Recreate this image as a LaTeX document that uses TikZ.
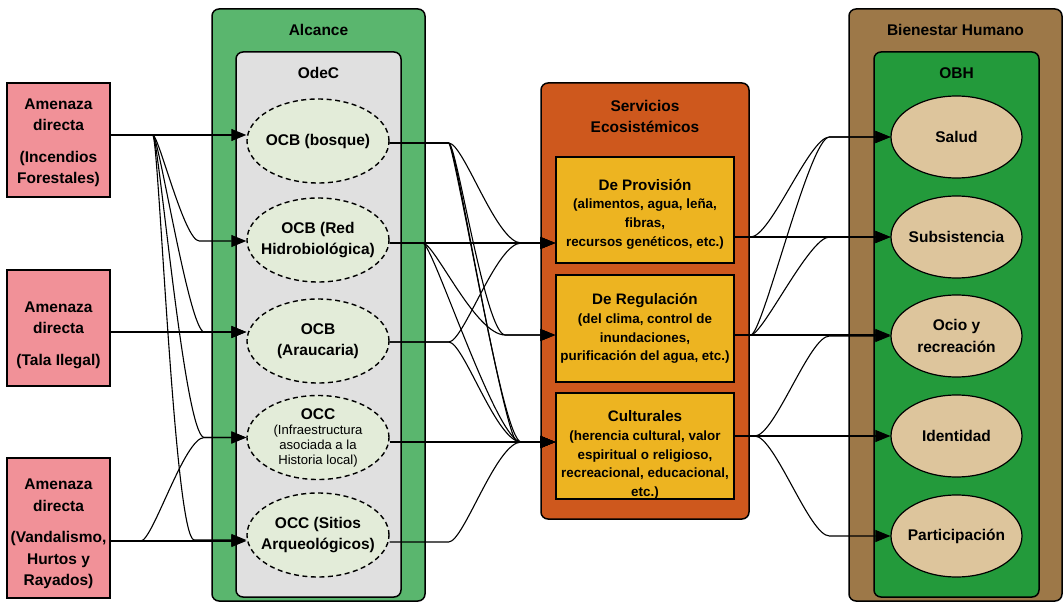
\documentclass[tikz,border=0pt]{standalone}
\usepackage{fontspec}
\setmainfont{Liberation Sans}
\usetikzlibrary{arrows.meta,calc,shapes.geometric}

\definecolor{threatpink}{HTML}{F19198}
\definecolor{alcgreen}{HTML}{5AB66E}
\definecolor{odecgray}{HTML}{E0E0E0}
\definecolor{objpale}{HTML}{E3ECD9}
\definecolor{seorange}{HTML}{CE581D}
\definecolor{seyellow}{HTML}{EDB421}
\definecolor{bhbrown}{HTML}{9D7848}
\definecolor{obhgreen}{HTML}{239A3B}
\definecolor{bhtan}{HTML}{DDC59C}

% connector: straight run out, smooth bend, straight run into the target
\newcommand\curvelink[6]{%
  \draw[link] (#1) -- ++(#3,0) .. controls +(#5,0) and +(-#6,0) .. ([xshift=-#4pt]#2) -- (#2);}

\begin{document}
\begin{tikzpicture}[x=1pt,y=-1pt,
  every node/.style={font=\bfseries\fontsize{15.5}{21.5}\selectfont, align=center, inner sep=0pt},
  frame/.style={draw=black, line width=1.5pt, rounded corners=7pt},
  threatbox/.style={draw=black, line width=1.5pt, fill=threatpink, minimum width=103pt},
  objellipse/.style={ellipse, draw=black, line width=1.4pt, dash pattern=on 5pt off 3.5pt,
    fill=objpale, minimum width=142pt, minimum height=84pt},
  servbox/.style={draw=black, line width=1.5pt, fill=seyellow, minimum width=178pt},
  servtext/.style={font=\bfseries\fontsize{13.4}{18.7}\selectfont},
  bhellipse/.style={ellipse, draw=black, line width=1.2pt, fill=bhtan,
    minimum width=131pt, minimum height=82pt},
  link/.style={draw=black, line width=1.1pt, -{Triangle[length=15pt,width=12pt]}},
]
\useasboundingbox (0,0) rectangle (1063,602);

% ---------- containers ----------
\node[frame, fill=alcgreen, minimum width=213pt, minimum height=592pt] (alcance) at (318.5,305) {};
\node (alcance-title) at ($(alcance.north)+(0,22)$) {Alcance};
\node[frame, fill=odecgray, minimum width=165pt, minimum height=545pt] (odec) at (318.5,324.5) {};
\node (odec-title) at ($(odec.north)+(0,22)$) {OdeC};

\node[frame, fill=seorange, minimum width=208pt, minimum height=436pt] (servicios) at (645,301) {};
\node (servicios-title) at ($(servicios.north)+(0,34)$) {Servicios\\Ecosistémicos};

\node[frame, fill=bhbrown, minimum width=213pt, minimum height=592pt] (bienestar) at (955.5,305) {};
\node (bienestar-title) at ($(bienestar.north)+(0,22)$) {Bienestar Humano};
\node[frame, fill=obhgreen, minimum width=165pt, minimum height=545pt] (obh) at (956.5,324.5) {};
\node (obh-title) at ($(obh.north)+(0,22)$) {OBH};

% ---------- direct threats ----------
\node[threatbox, minimum height=114pt] (t1) at (58.5,140) {};
\node (t1-text) at ($(t1)+(0,3)$) {Amenaza\\directa\\[10pt](Incendios\\Forestales)};
\node[threatbox, minimum height=116pt] (t2) at (58.5,328) {};
\node (t2-text) at ($(t2)+(0,7)$) {Amenaza\\directa\\[10pt](Tala Ilegal)};
\node[threatbox, minimum height=140pt] (t3) at (58.5,528) {};
\node (t3-text) at ($(t3)+(0,6)$) {Amenaza\\directa\\[10pt](Vandalismo,\\Hurtos y\\Rayados)};

% ---------- conservation objects ----------
\node[objellipse] (e1) at (318,141) {};
\node (e1-text) at (e1) {OCB (bosque)};
\node[objellipse] (e2) at (318,240) {};
\node (e2-text) at (e2) {OCB (Red\\Hidrobiológica)};
\node[objellipse] (e3) at (318,341) {};
\node (e3-text) at (e3) {OCB\\(Araucaria)};
\node[objellipse] (e4) at (318,437.5) {};
\node[font=\mdseries\fontsize{13.1}{15}\selectfont] (e4-text) at (318,438) {{\bfseries\fontsize{15.5}{16}\selectfont OCC}\\(Infraestructura\\asociada a la\\Historia local)};
\node[objellipse] (e5) at (318,535) {};
\node (e5-text) at (e5) {OCC (Sitios\\Arqueológicos)};

% ---------- ecosystem services ----------
\node[servbox, minimum height=106pt] (prov) at (645,210) {};
\node[servtext] (prov-text) at ($(prov)+(0,4)$)
  {{\fontsize{15.2}{18.7}\selectfont De Provisión}\\(alimentos, agua, leña,\\fibras,\\recursos genéticos, etc.)};
\node[servbox, minimum height=107pt] (reg) at (645,328.5) {};
\node[servtext] (reg-text) at (reg)
  {{\fontsize{15.2}{18.7}\selectfont De Regulación}\\(del clima, control de\\inundaciones,\\purificación del agua, etc.)};
\node[servbox, minimum height=106pt] (cult) at (645,446) {};
\node[servtext] (cult-text) at ($(cult)+(0,9)$)
  {{\fontsize{15.2}{18.7}\selectfont Culturales}\\(herencia cultural, valor\\espiritual o religioso,\\recreacional, educacional,\\etc.)};

% ---------- human well-being ----------
\node[bhellipse] (salud) at (956.5,137) {};
\node (salud-text) at (salud) {Salud};
\node[bhellipse] (subs) at (956.5,237) {};
\node (subs-text) at (subs) {Subsistencia};
\node[bhellipse] (ocio) at (956.5,336) {};
\node (ocio-text) at (ocio) {Ocio y\\recreación};
\node[bhellipse] (ident) at (956.5,436) {};
\node (ident-text) at (ident) {Identidad};
\node[bhellipse] (part) at (956.5,536) {};
\node (part-text) at (part) {Participación};

% ---------- ports ----------
\coordinate (t1o) at ([yshift=5pt]t1.east);
\coordinate (t2o) at ([yshift=-4pt]t2.east);
\coordinate (t3o) at ([yshift=-13pt]t3.east);
\coordinate (e1i) at ([yshift=6pt]e1.west);
\coordinate (e2i) at ([yshift=-1pt]e2.west);
\coordinate (e3i) at ([yshift=9pt]e3.west);
\coordinate (e4i) at (e4.west);
\coordinate (e5i) at ([yshift=-5pt]e5.west);
\coordinate (e1o) at ([yshift=-2pt]e1.east);
\coordinate (e2o) at ([yshift=-3pt]e2.east);
\coordinate (e3o) at ([yshift=-1pt]e3.east);
\coordinate (e4o) at ([yshift=-4.5pt]e4.east);
\coordinate (e5o) at ([yshift=-7pt]e5.east);
\coordinate (pi) at ([yshift=-33pt]prov.west);
\coordinate (ri) at ([yshift=-6.5pt]reg.west);
\coordinate (ci) at ([yshift=4pt]cult.west);
\coordinate (po) at ([yshift=-27pt]prov.east);
\coordinate (ro) at ([yshift=-6.5pt]reg.east);
\coordinate (co) at ([yshift=10pt]cult.east);

% ---------- threats -> objects ----------
\draw[link] (t1o) -- (t1o -| e1.west);
\curvelink{t1o}{e2i}{42}{47}{6}{15}
\curvelink{t1o}{e3i}{42}{42}{6}{15}
\curvelink{t1o}{e4i}{42}{42}{6}{20}
\curvelink{t1o}{e5i}{42}{52}{6}{20}
\draw[link] (t2o) -- (t2o -| e3.west);
\curvelink{t3o}{e4i}{30}{42}{12}{20}
\draw[link] (t3o) -- (t3o -| e5.west);

% ---------- objects -> services ----------
\curvelink{e1o}{pi}{59}{34}{15}{25}
\curvelink{e1o}{ri}{59}{50}{8}{20}
\curvelink{e1o}{ci}{59}{34}{8}{20}
\curvelink{e1o}{ci}{59}{38}{5}{12}
\draw[link] (e2o) -- (e2o -| prov.west);
\curvelink{e2o}{ri}{33}{50}{12}{30}
\curvelink{e2o}{ci}{33}{34}{10}{25}
\curvelink{e3o}{pi}{59}{34}{15}{25}
\curvelink{e3o}{ci}{59}{34}{15}{25}
\draw[link] (e4o) -- (e4o -| cult.west);
\curvelink{e5o}{ci}{59}{34}{15}{25}

% ---------- services -> well-being ----------
\curvelink{po}{salud.west}{16}{61}{20}{20}
\draw[link] (po) -- (po -| subs.west);
\curvelink{ro}{salud.west}{16}{61}{12}{20}
\curvelink{ro}{subs.west}{16}{61}{12}{20}
\draw[link] (ro) -- (ro -| ocio.west);
\curvelink{co}{ocio.west}{20}{61}{20}{20}
\draw[link] (co) -- (co -| ident.west);
\curvelink{co}{part.west}{20}{61}{20}{20}
\end{tikzpicture}
\end{document}
